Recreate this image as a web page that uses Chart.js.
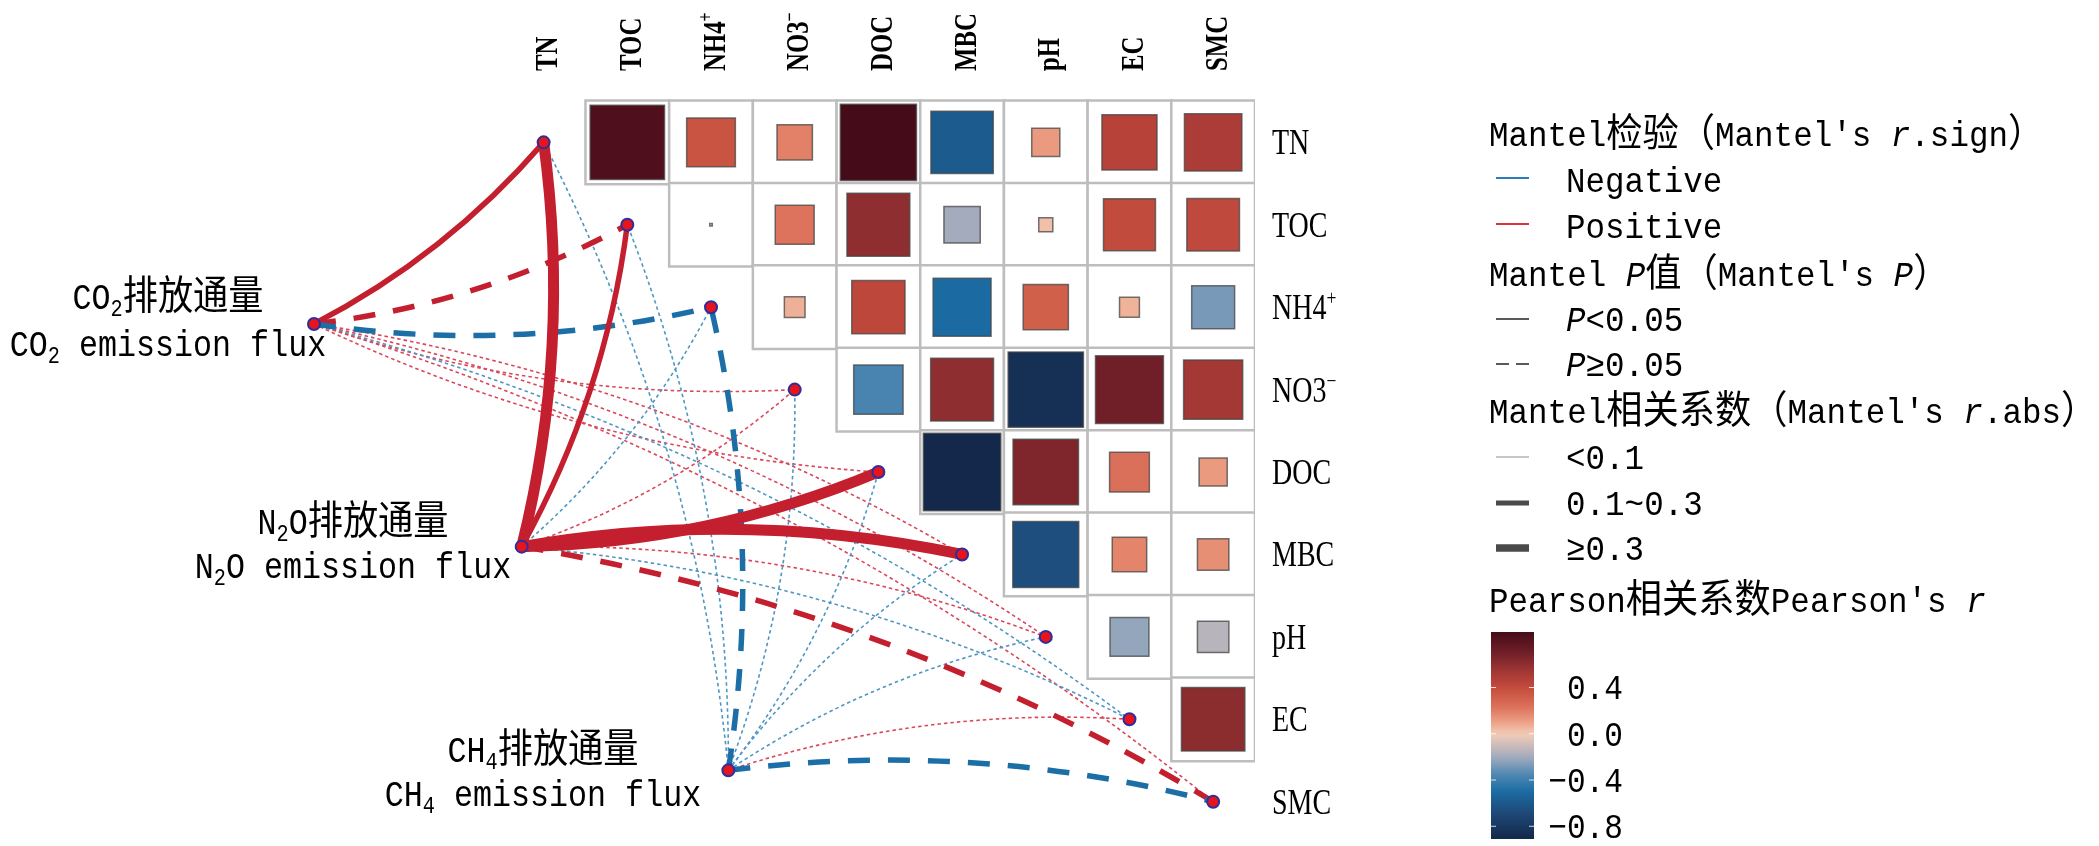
<!DOCTYPE html>
<html>
<head>
<meta charset="utf-8">
<script src="https://cdn.jsdelivr.net/npm/chart.js@4.4.0/dist/chart.umd.min.js"></script>
<style>
  html, body { margin: 0; padding: 0; background: #fff; }
  #wrap { width: 2099px; height: 846px; position: relative; }
</style>
</head>
<body>
<div id="wrap"><canvas id="mantel"></canvas></div>
<script>
// ---- data ----
const vars = ['TN', 'TOC', 'NH4', 'NO3', 'DOC', 'MBC', 'pH', 'EC', 'SMC'];
const varLabels = ['TN', 'TOC', 'NH4^+^', 'NO3^−^', 'DOC', 'MBC', 'pH', 'EC', 'SMC'];

// Pearson r, upper triangle: row i holds columns i+1 .. 8
const pearson = [
  [0.84, 0.36, 0.19, 0.88, -0.59, 0.12, 0.46, 0.50],
  [0.001, 0.23, 0.60, -0.20, 0.03, 0.41, 0.42],
  [0.065, 0.43, -0.51, 0.31, 0.06, -0.28],
  [-0.37, 0.60, -0.86, 0.70, 0.53],
  [-0.91, 0.65, 0.24, 0.12],
  [-0.66, 0.18, 0.15],
  [-0.23, -0.15],
  [0.61]
];

const fluxes = ['CO2', 'N2O', 'CH4'];
const fluxLabels = [
  ['CO{2}排放通量', 'CO{2} emission flux'],
  ['N{2}O排放通量', 'N{2}O emission flux'],
  ['CH{4}排放通量', 'CH{4} emission flux']
];
// Mantel r (signed) and P for each flux x variable
const mantelR = [
  [0.21, 0.16, -0.14, 0.05, 0.06, 0.04, 0.03, -0.05, 0.04],
  [0.35, 0.22, -0.06, 0.05, 0.42, 0.38, 0.04, -0.03, 0.17],
  [-0.04, -0.05, -0.19, -0.03, -0.06, -0.02, -0.05, 0.04, -0.15]
];
const mantelP = [
  [0.012, 0.081, 0.124, 0.46, 0.38, 0.55, 0.62, 0.51, 0.58],
  [0.001, 0.018, 0.47, 0.52, 0.001, 0.001, 0.60, 0.71, 0.093],
  [0.64, 0.55, 0.072, 0.70, 0.49, 0.80, 0.57, 0.62, 0.11]
];
const cbTicks = [0.4, 0.0, -0.4, -0.8];

// ---- layout ----
const sourceX = [-2.744, -0.262, 2.207];   // flux node positions (data units)
const sourceY = [2.203, 4.905, 7.619];
const fluxLabelPos = [[168, 297, 344], [353, 522, 566], [543, 750, 794]];
const bend = 0.096;
const POS = '#c41f2f', NEG = '#1b6fa6';
const POS_T = '#d9485a', NEG_T = '#4f97c2';

const cmapStops = [
  [-0.91, '#13284a'], [-0.7, '#1e4674'], [-0.5, '#1b6ca3'], [-0.35, '#5088b2'],
  [-0.22, '#9aa8bc'], [-0.1, '#cdbcbb'], [0, '#f3cdb6'], [0.1, '#eca186'],
  [0.22, '#de755e'], [0.35, '#cb5643'], [0.45, '#ba4339'], [0.55, '#9d3534'],
  [0.7, '#701f28'], [0.88, '#460b18']
];
function hex2rgb(h) { return [1, 3, 5].map(i => parseInt(h.substr(i, 2), 16)); }
function cmap(v) {
  if (v <= cmapStops[0][0]) return cmapStops[0][1];
  for (let i = 1; i < cmapStops.length; i++) {
    if (v <= cmapStops[i][0]) {
      const [a, ca] = cmapStops[i - 1], [b, cb] = cmapStops[i];
      const t = (v - a) / (b - a), A = hex2rgb(ca), B = hex2rgb(cb);
      return 'rgb(' + A.map((c, k) => Math.round(c + (B[k] - c) * t)).join(',') + ')';
    }
  }
  return cmapStops[cmapStops.length - 1][1];
}

// ---- build datasets ----
const cells = [], squares = [];
pearson.forEach((row, i) => row.forEach((r, k) => {
  cells.push({ x: i + 1 + k, y: i });
  squares.push({ x: i + 1 + k, y: i, r: r });
}));
const envNodes = vars.map((v, i) => ({ x: i, y: i }));
const fluxNodes = fluxes.map((f, i) => ({ x: sourceX[i], y: sourceY[i] }));

function cellPx(chart) {
  const x = chart.scales.x;
  return x.getPixelForValue(1) - x.getPixelForValue(0);
}

// ---- rich text helper ----
const CJK = /[\u3000-\u9fff\uff00-\uffef]/;
function runsOf(str) {
  const out = [];
  str.split(/(_[^_]+_|\{[^}]+\}|\^[^^]+\^)/).forEach(tok => {
    if (!tok) return;
    let kind = 'n', t = tok;
    if (tok[0] === '_') { kind = 'i'; t = tok.slice(1, -1); }
    else if (tok[0] === '{') { kind = 'sub'; t = tok.slice(1, -1); }
    else if (tok[0] === '^') { kind = 'sup'; t = tok.slice(1, -1); }
    t.split(/([\u3000-\u9fff\uff00-\uffef]+)/).forEach(s => {
      if (s) out.push({ s: s, kind: kind, cjk: CJK.test(s) });
    });
  });
  return out;
}
function fontFor(run, o) {
  if (run.cjk) return `${o.weight || 'normal'} ${Math.round(o.size * 1.1)}px "Noto Sans CJK SC"`;
  let sz = o.size;
  if (run.kind === 'sub' || run.kind === 'sup') sz = Math.round(o.size * 0.64);
  return `${run.kind === 'i' ? 'italic ' : ''}${o.weight || 'normal'} ${sz}px ${o.family || '"Liberation Mono"'}`;
}
function drawText(ctx, str, x, y, o) {
  const runs = runsOf(str);
  const hs = o.hscale || 1;
  ctx.save();
  ctx.translate(x, y);
  ctx.scale(hs, 1);
  ctx.fillStyle = o.color || '#000';
  ctx.textBaseline = 'alphabetic';
  let total = 0;
  runs.forEach(r => { ctx.font = fontFor(r, o); r.w = ctx.measureText(r.s).width; total += r.w; });
  let cx = o.align === 'center' ? -total / 2 : o.align === 'right' ? -total : 0;
  const base = o.size * 0.34;
  runs.forEach(r => {
    ctx.font = fontFor(r, o);
    let dy = 0;
    if (r.kind === 'sub') dy = o.size * 0.2;
    if (r.kind === 'sup') dy = -o.size * 0.4;
    ctx.fillText(r.s, cx, base + dy);
    cx += r.w;
  });
  ctx.restore();
}

// ---- links (Mantel) ----
const linkPlugin = {
  id: 'links',
  beforeDatasetsDraw(chart) {
    const { ctx, scales: { x, y } } = chart;
    const links = [];
    fluxes.forEach((f, fi) => {
      vars.forEach((v, vi) => {
        const r = mantelR[fi][vi], p = mantelP[fi][vi], a = Math.abs(r);
        links.push({
          sx: x.getPixelForValue(sourceX[fi]), sy: y.getPixelForValue(sourceY[fi]),
          ex: x.getPixelForValue(vi), ey: y.getPixelForValue(vi),
          side: vi < 5 ? 1 : -1,
          w: a < 0.1 ? 1.6 : a < 0.3 ? 5.5 : 11,
          thin: a < 0.1, pos: r > 0, dashed: p >= 0.05
        });
      });
    });
    links.sort((a, b) => a.w - b.w);
    ctx.save();
    links.forEach(l => {
      const dx = l.ex - l.sx, dy = l.ey - l.sy;
      const cx = (l.sx + l.ex) / 2 - l.side * dy * bend;
      const cy = (l.sy + l.ey) / 2 + l.side * dx * bend;
      ctx.beginPath();
      ctx.moveTo(l.sx, l.sy);
      ctx.quadraticCurveTo(cx, cy, l.ex, l.ey);
      ctx.lineWidth = l.w;
      ctx.lineCap = 'butt';
      ctx.strokeStyle = l.thin ? (l.pos ? POS_T : NEG_T) : (l.pos ? POS : NEG);
      ctx.setLineDash(l.dashed ? (l.thin ? [3.5, 3] : [22, 18]) : []);
      ctx.stroke();
    });
    ctx.restore();
  }
};

// ---- labels + legend ----
const textPlugin = {
  id: 'texts',
  afterDraw(chart) {
    const { ctx, scales: { x, y } } = chart;
    // column labels (rotated)
    varLabels.forEach((lab, i) => {
      ctx.save();
      ctx.translate(x.getPixelForValue(i) + 3, 71);
      ctx.rotate(-Math.PI / 2);
      drawText(ctx, lab, 0, 0, { size: 31, family: '"Liberation Serif"', weight: 'bold', hscale: 0.8 });
      ctx.restore();
    });
    // row labels
    varLabels.forEach((lab, i) => {
      drawText(ctx, lab, 1272, y.getPixelForValue(i), { size: 35, family: '"Liberation Serif"', hscale: 0.8 });
    });
    // flux labels
    fluxLabels.forEach((pair, i) => {
      const [cx, y1, y2] = fluxLabelPos[i];
      drawText(ctx, pair[0], cx, y1, { size: 36, align: 'center', hscale: 0.88 });
      drawText(ctx, pair[1], cx, y2, { size: 36, align: 'center', hscale: 0.88 });
    });

    // legend
    const tx = 1489, k0 = 1496, k1 = 1529, lx = 1566;
    const lt = { size: 35, hscale: 0.93 };
    const key = (yy, color, w, dash) => {
      ctx.save();
      ctx.beginPath();
      ctx.moveTo(k0, yy); ctx.lineTo(k1, yy);
      ctx.strokeStyle = color; ctx.lineWidth = w; ctx.setLineDash(dash || []);
      ctx.stroke();
      ctx.restore();
    };
    drawText(ctx, 'Mantel检验（Mantel\'s _r_.sign）', tx, 134, lt);
    key(178, '#2b7bba', 2); drawText(ctx, 'Negative', lx, 180, lt);
    key(224, '#e0303a', 2); drawText(ctx, 'Positive', lx, 226, lt);
    drawText(ctx, 'Mantel _P_值（Mantel\'s _P_）', tx, 274, lt);
    key(319, '#5a5a5a', 2.2); drawText(ctx, '_P_<0.05', lx, 319, lt);
    key(364, '#5a5a5a', 2.2, [13, 7]); drawText(ctx, '_P_≥0.05', lx, 364, lt);
    drawText(ctx, 'Mantel相关系数（Mantel\'s _r_.abs）', tx, 411, lt);
    key(457, '#b4b4b4', 1.5); drawText(ctx, '<0.1', lx, 457, lt);
    key(503, '#4a4a4a', 5); drawText(ctx, '0.1~0.3', lx, 503, lt);
    key(548, '#4a4a4a', 7.5); drawText(ctx, '≥0.3', lx, 548, lt);
    drawText(ctx, 'Pearson相关系数Pearson\'s _r_', tx, 600, lt);

    // colour bar
    const all = pearson.flat();
    const vmax = Math.max(...all), vmin = Math.min(...all);
    const cbL = 1491, cbR = 1534, cbT = 632, cbB = 839;
    const grad = ctx.createLinearGradient(0, cbT, 0, cbB);
    for (let s = 0; s <= 40; s++) {
      grad.addColorStop(s / 40, cmap(vmax - (vmax - vmin) * s / 40));
    }
    ctx.save();
    ctx.fillStyle = grad;
    ctx.fillRect(cbL, cbT, cbR - cbL, cbB - cbT);
    cbTicks.forEach(t => {
      const yy = cbT + (vmax - t) / (vmax - vmin) * (cbB - cbT);
      ctx.strokeStyle = 'rgba(255,255,255,0.8)';
      ctx.lineWidth = 1;
      ctx.beginPath();
      ctx.moveTo(cbL, yy); ctx.lineTo(cbL + 5, yy);
      ctx.moveTo(cbR - 5, yy); ctx.lineTo(cbR, yy);
      ctx.stroke();
      drawText(ctx, (t < 0 ? '−' : '') + Math.abs(t).toFixed(1), 1623, yy, { size: 35, hscale: 0.89, align: 'right' });
    });
    ctx.restore();
  }
};

new Chart(document.getElementById('mantel'), {
  type: 'scatter',
  data: {
    datasets: [
      {
        label: 'flux nodes', data: fluxNodes, order: 0,
        pointStyle: 'circle', pointRadius: 6, backgroundColor: '#e8141c',
        borderColor: '#2e2e9e', borderWidth: 2
      },
      {
        label: 'env nodes', data: envNodes, order: 1,
        pointStyle: 'circle', pointRadius: 6, backgroundColor: '#e8141c',
        borderColor: '#2e2e9e', borderWidth: 2
      },
      {
        label: 'pearson', data: squares, order: 2,
        pointStyle: 'rect',
        pointRadius: c => Math.sqrt(Math.abs(c.raw.r)) * cellPx(c.chart) * 0.97 / Math.SQRT2,
        backgroundColor: c => cmap(c.raw.r),
        borderColor: 'rgba(70,70,70,0.75)', borderWidth: 1.5
      },
      {
        label: 'cells', data: cells, order: 3,
        pointStyle: 'rect',
        pointRadius: c => cellPx(c.chart) / Math.SQRT2,
        backgroundColor: '#ffffff', borderColor: '#bdbdbd', borderWidth: 2.5
      }
    ]
  },
  options: {
    responsive: true,
    maintainAspectRatio: false,
    animation: false,
    events: [],
    layout: { padding: { left: 0, right: 844, top: 0, bottom: 0 } },
    scales: {
      x: { type: 'linear', min: -6.4, max: 8.5, display: false },
      y: { type: 'linear', min: -1.63, max: 8.44, reverse: true, display: false }
    },
    plugins: {
      legend: { display: false },
      tooltip: { enabled: false }
    }
  },
  plugins: [linkPlugin, textPlugin]
});
</script>
</body>
</html>
